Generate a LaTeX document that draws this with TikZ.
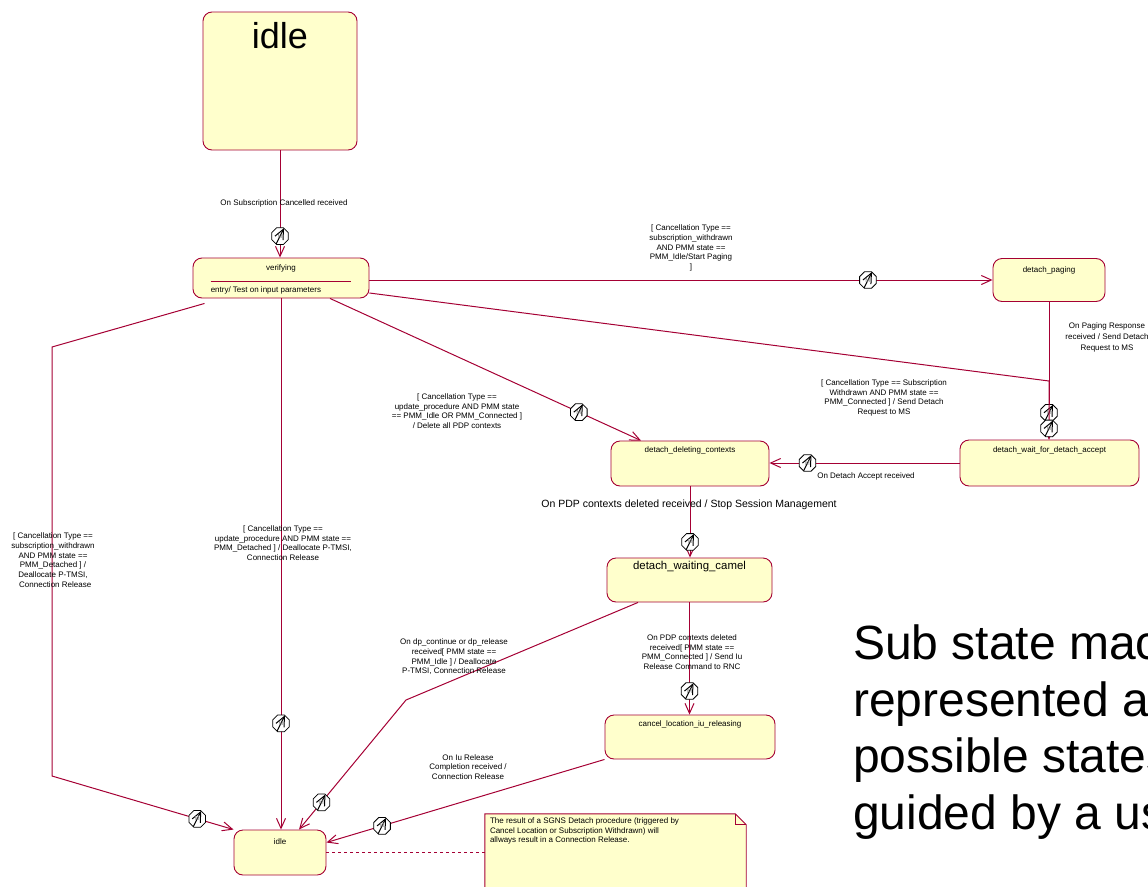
\documentclass[tikz,border=0pt]{standalone}
\usepackage{fontspec}
\setmainfont{Liberation Sans}
\usetikzlibrary{arrows.meta,shapes.geometric}
\definecolor{umlred}{RGB}{165,0,52}
\definecolor{umlfill}{RGB}{255,255,204}
\begin{document}
\begin{tikzpicture}[x=1pt,y=-1pt,
  state/.style={draw=umlred, fill=umlfill, rounded corners=9pt, line width=0.9pt, inner sep=0pt},
  sname/.style={font=\fontsize{8}{9.6}\selectfont, inner sep=0pt},
  lab/.style={font=\fontsize{8}{9.7}\selectfont, align=center, inner sep=0pt},
  trans/.style={draw=umlred, line width=1pt, -{Straight Barb[length=10pt,width=9pt]}},
  guard/.style={regular polygon, regular polygon sides=8, minimum size=18pt, draw=black, fill=white,
    line width=0.8pt, inner sep=0pt, text=gray, font=\fontsize{6}{6}\selectfont,
    path picture={\draw[black,line width=1pt] ([shift={(-4pt,-8pt)}]path picture bounding box.center) -- ([shift={(4pt,8pt)}]path picture bounding box.center);}},
  notetext/.style={font=\fontsize{8}{9.2}\selectfont, align=left, inner sep=0pt}
]
\useasboundingbox (0,0) rectangle (1148,886);
\clip (0,0) rectangle (1148,886);

% states
\node[state, minimum width=154pt, minimum height=138pt] (idle1) at (280,81) {};
\node[font=\fontsize{36}{40}\selectfont, inner sep=0pt] (idle1T) at ([yshift=-24.5pt]idle1.north) {idle};
\node[state, minimum width=176pt, minimum height=40pt] (ver) at (281,278) {};
\node[sname] (verT) at ([yshift=-11pt]ver.north) {verifying};
\draw[umlred, line width=0.8pt] ([shift={(18pt,-3pt)}]ver.west) -- ([shift={(-18pt,-3pt)}]ver.east);
\node[sname, anchor=west] (verE) at ([shift={(18pt,-12pt)}]ver.west) {entry/ Test on input parameters};
\node[state, minimum width=112pt, minimum height=43pt] (dp) at (1049,280) {};
\node[sname] (dpT) at ([yshift=-12pt]dp.north) {detach\_paging};
\node[state, minimum width=179pt, minimum height=46pt] (dwa) at (1049.5,463) {};
\node[sname] (dwaT) at ([yshift=-11pt]dwa.north) {detach\_wait\_for\_detach\_accept};
\node[state, minimum width=158pt, minimum height=45pt] (ddc) at (690,463.5) {};
\node[sname] (ddcT) at ([yshift=-10pt]ddc.north) {detach\_deleting\_contexts};
\node[state, minimum width=165pt, minimum height=44pt] (dwc) at (689.5,580) {};
\node[font=\fontsize{11.4}{13}\selectfont, inner sep=0pt] (dwcT) at ([yshift=-9pt]dwc.north) {detach\_waiting\_camel};
\node[state, minimum width=170pt, minimum height=44pt] (clr) at (690,737) {};
\node[sname] (clrT) at ([yshift=-10pt]clr.north) {cancel\_location\_iu\_releasing};
\node[state, minimum width=92pt, minimum height=45pt] (idle2) at (280,852.5) {};
\node[sname] (idle2T) at ([yshift=-12pt]idle2.north) {idle};

% note
\node[minimum width=261pt, minimum height=90pt, inner sep=0pt] (note) at (615.5,859) {};
\filldraw[draw=umlred, fill=umlfill, line width=0.9pt] (note.south west) -- (note.north west) -- ([xshift=-11pt]note.north east) -- ([yshift=-11pt]note.north east) -- (note.south east) -- cycle;
\draw[umlred, line width=0.7pt] ([xshift=-11pt]note.north east) -- ([shift={(-11pt,-11pt)}]note.north east) -- ([yshift=-11pt]note.north east);
\node[notetext, anchor=north west] (noteT) at ([shift={(5pt,-4pt)}]note.north west) {The result of a SGNS Detach procedure (triggered by\\Cancel Location or Subscription Withdrawn) will\\allways result in a Connection Release.};
\draw[umlred, dashed, line width=0.8pt] (idle2.east) -- (idle2.east -| note.west);

% bend points
\coordinate (kL1) at (52,347);
\coordinate (kL2) at (52,776);
\coordinate (kR) at (1049,381);
\coordinate (kC) at (406,700);

% transitions
\draw[trans] (idle1.south) -- node[guard, pos=0.8]{M} (idle1.south |- ver.north);
\draw[trans] (ver.east |- dp.west) -- node[guard, pos=0.8]{M} (dp.west);
\draw[trans] (dp.south) -- node[guard, pos=0.805]{M} (dp.south |- dwa.north);
\draw[trans] ([yshift=-15pt]ver.east) -- (kR) -- node[guard, pos=0.81]{M} (kR |- dwa.north);
\draw[trans] ([xshift=49pt]ver.south) -- node[guard, pos=0.8]{M} ([xshift=-49pt]ddc.north);
\draw[trans] (dwa.west) -- node[guard, pos=0.8]{M} (dwa.west -| ddc.east);
\draw[trans] (ddc.south) -- node[guard, pos=0.78]{M} (ddc.south |- dwc.north);
\draw[trans] (dwc.south) -- node[guard, pos=0.79]{M} (dwc.south |- clr.north);
\draw[trans] ([xshift=-51.5pt]dwc.south) -- (kC) -- node[guard, pos=0.79]{M} ([xshift=19pt]idle2.north);
\draw[trans] (clr.south west) -- node[guard, pos=0.8]{M} ([yshift=10pt]idle2.east);
\draw[trans] ([xshift=12pt,yshift=-5pt]ver.south west) -- (kL1) -- (kL2) -- node[guard, pos=0.8]{M} (idle2.north west);
\draw[trans] (ver.south) -- node[guard, pos=0.8]{M} (ver.south |- idle2.north);

% labels
\node[lab] (l1) at (284,203) {On Subscription Cancelled received};
\node[lab] (l2) at (691,248) {[ Cancellation Type ==\\subscription\_withdrawn\\AND PMM state ==\\PMM\_Idle/Start Paging\\]};
\node[lab, font=\fontsize{8}{11}\selectfont] (l3) at (1107,337) {On Paging Response\\received / Send Detach\\Request to MS};
\node[lab] (l4) at (884,398) {[ Cancellation Type == Subscription\\Withdrawn AND PMM state ==\\PMM\_Connected ] / Send Detach\\Request to MS};
\node[lab] (l5) at (457,411) {[ Cancellation Type ==\\update\_procedure AND PMM state\\== PMM\_Idle OR PMM\_Connected ]\\/ Delete all PDP contexts};
\node[lab] (l6) at (866,476) {On Detach Accept received};
\node[lab, font=\fontsize{10.5}{12}\selectfont] (l7) at (689,505) {On PDP contexts deleted received / Stop Session Management};
\node[lab] (l8) at (283,543) {[ Cancellation Type ==\\update\_procedure AND PMM state ==\\PMM\_Detached ] / Deallocate P-TMSI,\\Connection Release};
\node[lab] (l9) at (53,560) {[ Cancellation Type ==\\subscription\_withdrawn\\AND PMM state ==\\PMM\_Detached ] /\\Deallocate P-TMSI,\\\ \ Connection Release};
\node[lab] (l10) at (454,657) {On dp\_continue or dp\_release\\received[ PMM state ==\\PMM\_Idle ] / Deallocate\\P-TMSI, Connection Release};
\node[lab] (l11) at (692,652) {On PDP contexts deleted\\received[ PMM state ==\\PMM\_Connected ] / Send Iu\\Release Command to RNC};
\node[lab] (l12) at (468,767) {On Iu Release\\Completion received /\\Connection Release};

% big text
\node[anchor=north west, align=left, font=\fontsize{48}{56.5}\selectfont, inner sep=0pt] (sub) at (853,625) {Sub state machine\\represented as\\possible states\\guided by a user};
\end{tikzpicture}
\end{document}
